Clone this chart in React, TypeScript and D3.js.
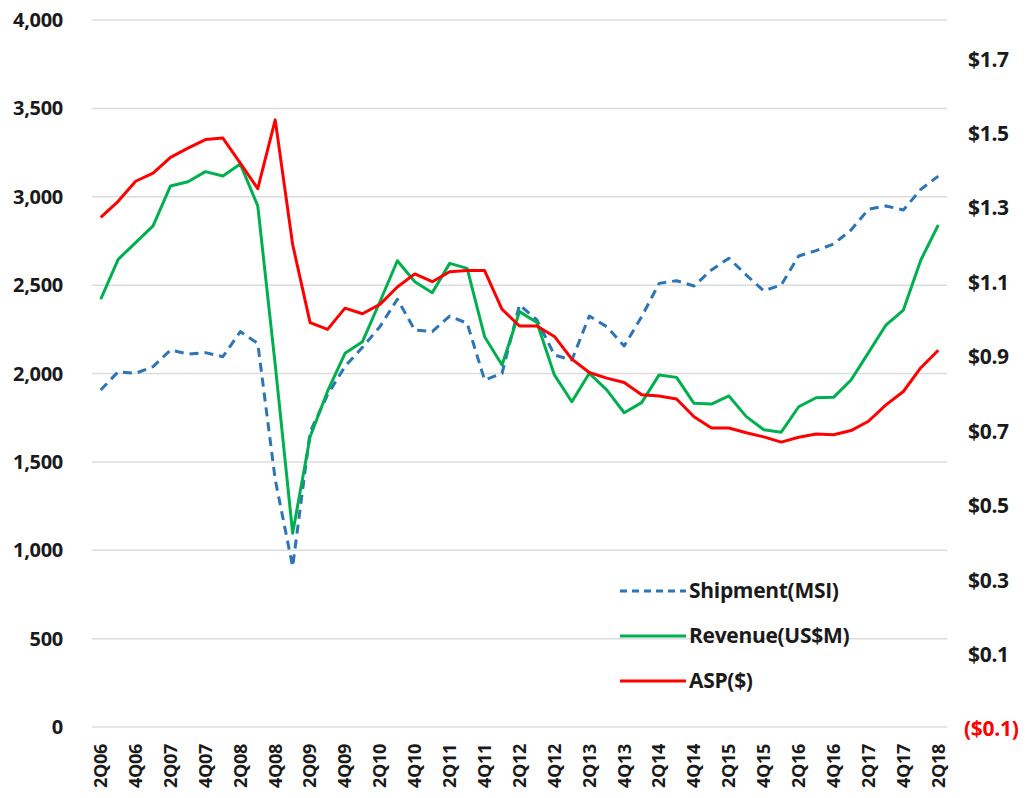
import * as d3 from "d3"
import { useEffect, useRef } from "react"

const quarters: string[] = []
for (let y = 6; y <= 18; y++) {
    for (let q = 1; q <= 4; q++) {
        if (y === 6 && q < 2) continue
        if (y === 18 && q > 2) continue
        quarters.push(`${q}Q${String(y).padStart(2, "0")}`)
    }
}

const shipment = [
    1907, 2010, 2001, 2039, 2133, 2110, 2118, 2095, 2237, 2170,
    1400, 907, 1670, 1880, 2040, 2148, 2265, 2420, 2246, 2237,
    2325, 2284, 1963, 2001, 2388, 2303, 2105, 2076, 2325, 2265,
    2156, 2321, 2510, 2525, 2495, 2586, 2652, 2557, 2468, 2501,
    2665, 2695, 2733, 2812, 2929, 2948, 2925, 3042, 3117,
]

const revenue = [
    2420, 2646, 2740, 2835, 3061, 3085, 3142, 3117, 3185, 2948,
    2050, 1096, 1642, 1900, 2114, 2180, 2406, 2638, 2519, 2457,
    2623, 2595, 2208, 2048, 2350, 2288, 1992, 1840, 2001, 1907,
    1778, 1835, 1992, 1978, 1831, 1827, 1873, 1756, 1682, 1668,
    1812, 1863, 1865, 1963, 2118, 2274, 2359, 2642, 2840,
]

const asp = [
    1.275, 1.318, 1.372, 1.394, 1.436, 1.461, 1.484, 1.488, 1.421, 1.352,
    1.537, 1.202, 0.992, 0.974, 1.031, 1.016, 1.041, 1.088, 1.123, 1.102,
    1.129, 1.132, 1.132, 1.028, 0.983, 0.983, 0.955, 0.894, 0.858, 0.843,
    0.831, 0.798, 0.795, 0.787, 0.739, 0.709, 0.709, 0.696, 0.685, 0.671,
    0.684, 0.693, 0.691, 0.702, 0.727, 0.771, 0.807, 0.871, 0.918,
]

const leftTicks = [0, 500, 1000, 1500, 2000, 2500, 3000, 3500, 4000]
const rightTicks = [-0.1, 0.1, 0.3, 0.5, 0.7, 0.9, 1.1, 1.3, 1.5, 1.7]

const series = [
    { name: "Shipment(MSI)", values: shipment, color: "#2e75b6", dash: "9,6", axis: "left" },
    { name: "Revenue(US$M)", values: revenue, color: "#00b050", dash: "", axis: "left" },
    { name: "ASP($)", values: asp, color: "#ff0000", dash: "", axis: "right" },
]

export default function App() {
    const svgRef = useRef<SVGSVGElement>(null)

    useEffect(() => {
        if (!svgRef.current) return
        const svg = d3.select(svgRef.current)
        svg.selectAll("*").remove()

        const font = "'Open Sans', Calibri, sans-serif"
        const left = 92
        const right = 947
        const top = 20
        const bottom = 727

        const x = d3.scaleBand<string>().domain(quarters).range([left, right])
        const xc = (q: string) => (x(q) ?? 0) + x.bandwidth() / 2
        const yL = d3.scaleLinear().domain([0, 4000]).range([bottom, top])
        const yR = d3.scaleLinear().domain([-0.1, 1.8]).range([bottom + 2, top + 2])

        // grid
        svg.append("g")
            .selectAll("line")
            .data(leftTicks)
            .join("line")
            .attr("x1", left)
            .attr("x2", right)
            .attr("y1", (d) => yL(d))
            .attr("y2", (d) => yL(d))
            .attr("stroke", "#dcdcdc")
            .attr("stroke-width", 1.5)

        // left axis labels
        svg.append("g")
            .selectAll("text")
            .data(leftTicks)
            .join("text")
            .attr("x", 63)
            .attr("y", (d) => yL(d))
            .attr("dy", "0.35em")
            .attr("text-anchor", "end")
            .attr("font-family", font)
            .attr("font-weight", "bold")
            .attr("font-size", 20)
            .attr("letter-spacing", -0.3)
            .attr("fill", "#1a1a1a")
            .text((d) => d3.format(",")(d))

        // right axis labels
        svg.append("g")
            .selectAll("text")
            .data(rightTicks)
            .join("text")
            .attr("x", (d) => (d < 0 ? 964 : 968))
            .attr("y", (d) => yR(d))
            .attr("dy", "0.35em")
            .attr("font-family", font)
            .attr("font-weight", "bold")
            .attr("font-size", 21)
            .attr("letter-spacing", -0.3)
            .attr("fill", (d) => (d < 0 ? "#ff0000" : "#1a1a1a"))
            .text((d) => (d < 0 ? `($${Math.abs(d).toFixed(1)})` : `$${d.toFixed(1)}`))

        // x labels every other quarter
        svg.append("g")
            .selectAll("text")
            .data(quarters.filter((_, i) => i % 2 === 0))
            .join("text")
            .attr("transform", (d) => `translate(${xc(d)},744) rotate(-90)`)
            .attr("dy", "0.35em")
            .attr("text-anchor", "end")
            .attr("font-family", font)
            .attr("font-weight", "bold")
            .attr("font-size", 18)
            .attr("letter-spacing", -0.3)
            .attr("fill", "#1a1a1a")
            .text((d) => d)

        // lines
        for (const s of series) {
            const yScale = s.axis === "left" ? yL : yR
            const line = d3
                .line<number>()
                .x((_, i) => xc(quarters[i]))
                .y((d) => yScale(d))
            svg.append("path")
                .datum(s.values)
                .attr("fill", "none")
                .attr("stroke", s.color)
                .attr("stroke-width", 3)
                .attr("stroke-dasharray", s.dash || null)
                .attr("stroke-linejoin", "round")
                .attr("d", line)
        }

        // legend
        const legend = svg.append("g").attr("transform", "translate(620,591)")
        series.forEach((s, i) => {
            const g = legend.append("g").attr("transform", `translate(0,${i * 45})`)
            g.append("line")
                .attr("x1", 0)
                .attr("x2", 66)
                .attr("stroke", s.color)
                .attr("stroke-width", 3)
                .attr("stroke-dasharray", s.dash ? "7,5" : null)
            g.append("text")
                .attr("x", 69)
                .attr("dy", "0.35em")
                .attr("font-family", font)
                .attr("font-weight", "bold")
                .attr("font-size", 21)
                .attr("letter-spacing", -0.3)
                .attr("fill", "#1a1a1a")
                .text(s.name)
        })
    }, [])

    return (
        <svg ref={svgRef} width={1031} height={798} viewBox="0 0 1031 798"
            style={{ position: "absolute", left: 0, top: 0, background: "#fff" }} />
    )
}
